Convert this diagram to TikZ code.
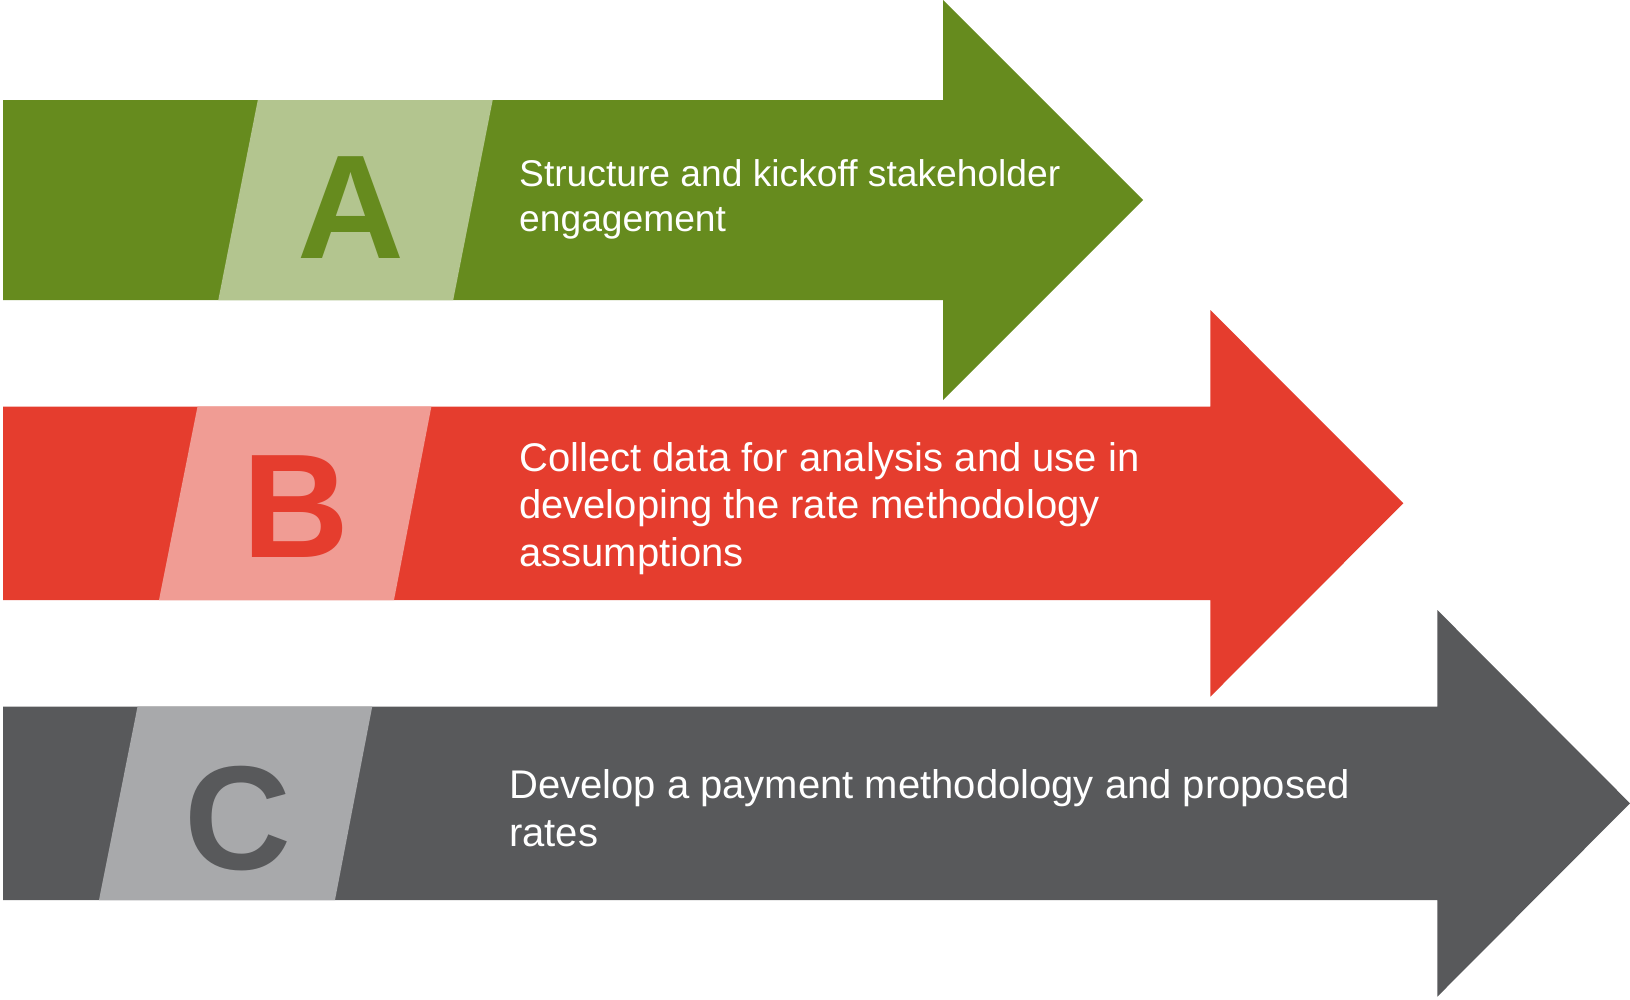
\documentclass[tikz,border=0pt]{standalone}
\usepackage{fontspec}
\setmainfont{Liberation Sans}
\definecolor{grnD}{RGB}{102,139,30}
\definecolor{grnL}{RGB}{179,197,143}
\definecolor{redD}{RGB}{229,61,46}
\definecolor{redL}{RGB}{240,156,148}
\definecolor{gryD}{RGB}{88,89,91}
\definecolor{gryL}{RGB}{168,169,171}
\tikzset{
  bodytext/.style={anchor=base west, inner sep=0pt, text=white, font=\fontsize{40}{47}\selectfont},
  bigletter/.style={anchor=base, inner sep=0pt, font=\fontsize{148}{155}\selectfont\bfseries}
}
\begin{document}
\begin{tikzpicture}[x=1pt,y=-1pt]
\useasboundingbox (0,0) rectangle (1630,999);
\fill[white] (0,0) rectangle (1630,999);
% green arrow
\fill[grnD] (3,100) -- (943,100) -- (943,0) -- (1143,200) -- (943,400) -- (943,300) -- (3,300) -- cycle;
\fill[grnL] (257.8,100) -- (492.7,100) -- (453.2,300) -- (218.3,300) -- cycle;
% red arrow
\fill[redD] (3,406.5) -- (1210.3,406.5) -- (1210.3,310) -- (1403.3,503.3) -- (1210.3,696.7) -- (1210.3,600) -- (3,600) -- cycle;
\fill[redL] (197.5,406.5) -- (431.4,406.5) -- (394,600) -- (159,600) -- cycle;
% gray arrow
\fill[gryD] (3,706.7) -- (1437.3,706.7) -- (1437.3,610) -- (1630,803.3) -- (1437.3,996.7) -- (1437.3,900) -- (3,900) -- cycle;
\fill[gryL] (137.5,706.7) -- (372.2,706.7) -- (335,900) -- (99,900) -- cycle;
% letters
\node[bigletter, text=grnD] (letA) at (351,258) {A};
\node[bigletter, text=redD] (letB) at (296,557) {B};
\node[bigletter, text=gryD] (letC) at (237.5,869) {C};
% texts
\node[bodytext, font=\fontsize{37.2}{45}\selectfont] (a1) at (519,186) {Structure and kickoff stakeholder};
\node[bodytext, font=\fontsize{37.2}{45}\selectfont] (a2) at (519,231) {engagement};
\node[bodytext] (b1) at (519,471) {Collect data for analysis and use in};
\node[bodytext] (b2) at (519,518.5) {developing the rate methodology};
\node[bodytext] (b3) at (519,566) {assumptions};
\node[bodytext] (c1) at (509,798) {Develop a payment methodology and proposed};
\node[bodytext] (c2) at (509,846) {rates};
\end{tikzpicture}
\end{document}
